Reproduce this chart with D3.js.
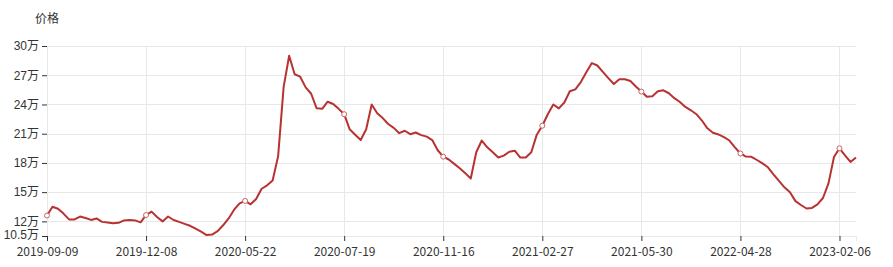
<!DOCTYPE html>
<html>
<head>
<meta charset="utf-8">
<script src="https://cdn.jsdelivr.net/npm/d3@7"></script>
<style>
  body { margin: 0; background: #fff; }
  svg text { font-family: "Noto Sans CJK SC", "Noto Sans", sans-serif; }
  svg .y-label text { font-family: "Liberation Sans", "Noto Sans CJK SC", sans-serif; }
</style>
</head>
<body>
<svg id="chart" width="893" height="267"></svg>
<script>
// price in 万 (10k CNY), one value per category step
const prices = [
  12.6, 13.5, 13.3, 12.8, 12.2, 12.2, 12.5, 12.35, 12.15, 12.3,
  11.95, 11.88, 11.8, 11.85, 12.1, 12.15, 12.1, 11.9, 12.65, 13.0,
  12.45, 12.0, 12.5, 12.14, 11.95, 11.75, 11.55, 11.25, 10.95, 10.6,
  10.65, 11.0, 11.6, 12.3, 13.2, 13.85, 14.1, 13.75, 14.3, 15.35,
  15.7, 16.2, 18.7, 25.8, 29.0, 27.1, 26.85, 25.75, 25.1, 23.6,
  23.55, 24.28, 24.05, 23.55, 23.0, 21.45, 20.9, 20.35, 21.45, 24.0,
  23.1, 22.6, 22.0, 21.6, 21.05, 21.3, 20.95, 21.12, 20.85, 20.7,
  20.35, 19.3, 18.64, 18.35, 17.9, 17.45, 16.95, 16.4, 19.1, 20.3,
  19.6, 19.1, 18.55, 18.75, 19.15, 19.25, 18.55, 18.55, 19.1, 20.9,
  21.82, 23.0, 24.0, 23.6, 24.2, 25.35, 25.55, 26.3, 27.3, 28.25,
  28.0, 27.35, 26.7, 26.1, 26.6, 26.58, 26.4, 25.85, 25.32, 24.8,
  24.85, 25.35, 25.45, 25.15, 24.65, 24.25, 23.75, 23.4, 23.0, 22.35,
  21.55, 21.1, 20.92, 20.65, 20.3, 19.6, 18.97, 18.65, 18.63, 18.3,
  17.95, 17.55, 16.83, 16.15, 15.5, 15.0, 14.08, 13.68, 13.32, 13.38,
  13.75, 14.4, 15.9, 18.6, 19.5, 18.78, 18.1, 18.55
];

// labelled categories, one every tickEvery steps
const tickLabels = [
  "2019-09-09", "2019-12-08", "2020-05-22", "2020-07-19", "2020-11-16",
  "2021-02-27", "2021-05-30", "2022-04-28", "2023-02-06"
];
const tickEvery = 18;

const yTicks = [10.5, 12, 15, 18, 21, 24, 27, 30];

const margin = { top: 46, right: 37, bottom: 31, left: 47 };
const width = 893 - margin.left - margin.right;
const height = 267 - margin.top - margin.bottom;

const lineColor = "#b83232";
const gridColor = "#e8e8e8";
const textColor = "#333";

const svg = d3.select("#chart")
  .append("g")
  .attr("transform", "translate(" + margin.left + "," + margin.top + ")");

const x = d3.scaleLinear()
  .domain([0, prices.length - 1])
  .range([0, width]);

const y = d3.scaleLinear()
  .domain([10.5, 30])
  .range([height, 0]);

const tickIdx = tickLabels.map((d, i) => i * tickEvery);

// horizontal grid
svg.append("g")
  .selectAll("line")
  .data(yTicks)
  .join("line")
  .attr("x1", 0)
  .attr("x2", width)
  .attr("y1", d => Math.round(y(d)) + 0.5)
  .attr("y2", d => Math.round(y(d)) + 0.5)
  .attr("stroke", gridColor);

// vertical grid at labelled categories
svg.append("g")
  .selectAll("line")
  .data(tickIdx)
  .join("line")
  .attr("x1", d => Math.round(x(d)) + 0.5)
  .attr("x2", d => Math.round(x(d)) + 0.5)
  .attr("y1", 0)
  .attr("y2", height)
  .attr("stroke", gridColor);

// y axis: ticks + labels, no domain line
const yAxis = svg.append("g")
  .attr("class", "y-label")
  .call(d3.axisLeft(y)
    .tickValues(yTicks)
    .tickSize(5)
    .tickPadding(3)
    .tickFormat(d => d + "万"));
yAxis.select(".domain").remove();
yAxis.selectAll(".tick line").attr("stroke", textColor);
yAxis.selectAll("text")
  .attr("fill", textColor)
  .style("font-size", "12px");
// bottom label sits a touch higher so it clears the date below
yAxis.selectAll(".tick text")
  .filter(d => d === 10.5)
  .attr("dy", "0.2em");

// x axis
const xAxis = svg.append("g")
  .attr("transform", "translate(0," + height + ")")
  .call(d3.axisBottom(x)
    .tickValues(tickIdx)
    .tickSize(5)
    .tickPadding(6)
    .tickFormat((d, i) => tickLabels[i]));
xAxis.select(".domain").attr("stroke", gridColor);
xAxis.selectAll(".tick line").attr("stroke", textColor);
xAxis.selectAll("text")
  .attr("fill", textColor)
  .style("font-size", "12px");

// axis name
svg.append("text")
  .attr("x", 0)
  .attr("y", -23)
  .attr("text-anchor", "middle")
  .attr("fill", textColor)
  .style("font-size", "12px")
  .text("价格");

// price line
const line = d3.line()
  .x((d, i) => x(i))
  .y(d => y(d));

svg.append("path")
  .datum(prices)
  .attr("fill", "none")
  .attr("stroke", lineColor)
  .attr("stroke-width", 2)
  .attr("stroke-linejoin", "round")
  .attr("d", line);

// hollow markers at labelled categories
svg.append("g")
  .selectAll("circle")
  .data(tickIdx)
  .join("circle")
  .attr("cx", d => x(d))
  .attr("cy", d => y(prices[d]))
  .attr("r", 2.5)
  .attr("fill", "#fff")
  .attr("stroke", "#c86464")
  .attr("stroke-width", 1);
</script>
</body>
</html>
